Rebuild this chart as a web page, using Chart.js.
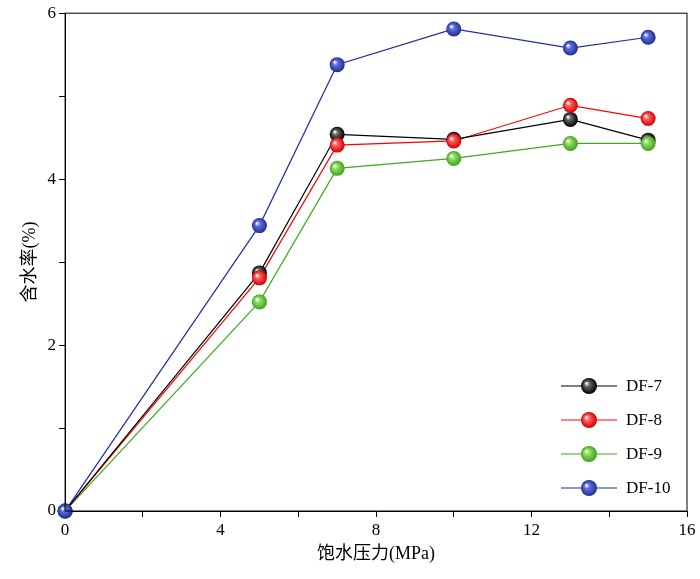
<!DOCTYPE html>
<html><head><meta charset="utf-8">
<script src="https://cdn.jsdelivr.net/npm/chart.js@4"></script>
<style>body{margin:0;background:#fff}#w{width:700px;height:579px}</style>
</head><body><div id="w"><canvas id="c"></canvas></div>
<script>
const pressure=[0,5,7,10,13,15];
const df7=[0,2.87,4.54,4.48,4.72,4.47];
const df8=[0,2.81,4.41,4.46,4.89,4.73];
const df9=[0,2.52,4.13,4.25,4.43,4.43];
const df10=[0,3.44,5.38,5.81,5.58,5.71];
const names=['DF-7','DF-8','DF-9','DF-10'];
const lineColors=['#000000','#ff0000','#3daa1f','#1f2f9f'];
const ballColors=[['#666666','#000000'],['#ff6060','#d00000'],['#90e060','#40a020'],['#6070e0','#202c90']];
const F='"Liberation Serif","Noto Sans CJK SC",serif';
function ball(ctx,x,y,r,i){const g=ctx.createRadialGradient(x-r*0.35,y-r*0.35,r*0.05,x,y,r);g.addColorStop(0,'#ffffff');g.addColorStop(0.3,ballColors[i][0]);g.addColorStop(1,ballColors[i][1]);ctx.beginPath();ctx.arc(x,y,r,0,Math.PI*2);ctx.fillStyle=g;ctx.fill();}
const data=[df7,df8,df9,df10];
const ballPlugin={id:'balls',afterDatasetsDraw(ch){const c=ch.ctx;ch.data.datasets.forEach((d,i)=>{ch.getDatasetMeta(i).data.forEach(p=>ball(c,p.x,p.y,7.5,i));});
 const a=ch.chartArea;c.save();c.strokeStyle='#000';c.lineWidth=1;c.strokeRect(a.left,a.top,a.right-a.left,a.bottom-a.top);
 c.font='17px '+F;c.textBaseline='middle';
 names.forEach((n,i)=>{const y=386+i*34;c.strokeStyle=lineColors[i];c.lineWidth=1.2;c.beginPath();c.moveTo(561,y);c.lineTo(617,y);c.stroke();ball(c,589,y,8,i);c.fillStyle='#000';c.fillText(n,626,y+1);});
 c.restore();}};
new Chart(document.getElementById('c'),{type:'line',
data:{datasets:data.map((d,i)=>({label:names[i],data:pressure.map((x,j)=>({x:x,y:d[j]})),borderColor:lineColors[i],borderWidth:1.2,pointRadius:0,tension:0}))},
options:{responsive:true,maintainAspectRatio:false,animation:false,
layout:{padding:{top:3,right:13,left:15,bottom:10}},
plugins:{legend:{display:false},tooltip:{enabled:false}},
scales:{
x:{type:'linear',min:0,max:16,grid:{drawOnChartArea:false,color:'#000',tickLength:6,tickColor:'#000'},border:{color:'#000'},
 ticks:{stepSize:2,color:'#000',font:{size:17,family:F},callback:v=>v%4===0?v:''},
 title:{display:true,text:'饱水压力(MPa)',color:'#000',font:{size:18,family:F},padding:{top:0}}},
y:{min:0,max:6,grid:{drawOnChartArea:false,color:'#000',tickLength:6,tickColor:'#000'},border:{color:'#000'},
 ticks:{stepSize:1,color:'#000',font:{size:17,family:F},callback:v=>v%2===0?v:''},
 title:{display:true,text:'含水率(%)',color:'#000',font:{size:18,family:F},padding:{bottom:4}}}}},
plugins:[ballPlugin]});
</script></body></html>
